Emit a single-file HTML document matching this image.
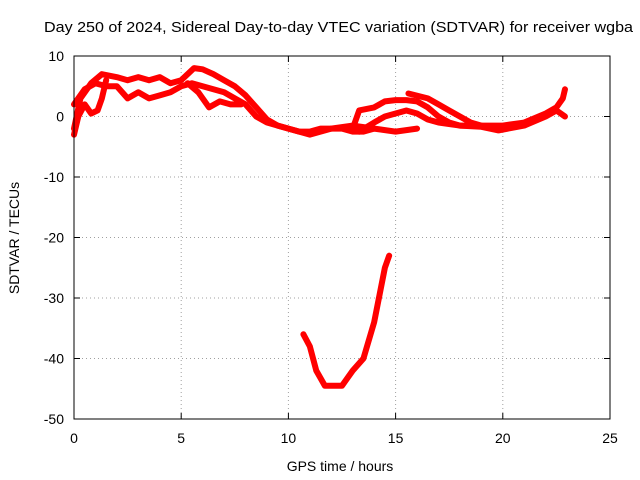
<!DOCTYPE html>
<html><head><meta charset="utf-8"><style>
body{margin:0;background:#fff;}
svg{display:block;font-family:"Liberation Sans",sans-serif;}
</style></head><body>
<svg id="chart" width="640" height="480" viewBox="0 0 640 480">
<text x="44" y="32" font-size="15" textLength="589" lengthAdjust="spacingAndGlyphs">Day 250 of 2024, Sidereal Day-to-day VTEC variation (SDTVAR) for receiver wgba</text>
<text x="340" y="471" font-size="14" text-anchor="middle">GPS time / hours</text>
<text x="19" y="238" font-size="14" text-anchor="middle" transform="rotate(-90 19 238)">SDTVAR / TECUs</text>
<g id="grid"></g>
<g id="series"></g>
<rect x="74" y="56" width="536" height="363" fill="none" stroke="#000" stroke-width="1"/>
</svg>
<script>
const xTicks=[0,5,10,15,20,25];
const yTicks=[10,0,-10,-20,-30,-40,-50];
const trackA=[[0,-2],[0.3,3],[0.8,5.5],[1.3,7],[2,6.5],[2.5,6],[3,6.5],[3.5,6],[4,6.5],[4.5,5.5],[5,6],[5.6,8],[6,7.8],[6.5,7],[7,6],[7.5,5],[8,3.5],[8.5,1.5],[9,-0.5],[9.5,-1.5],[10,-2],[10.5,-2.5],[11,-2.5],[11.5,-2],[12,-2],[12.5,-2],[13,-2.5],[13.5,-2.5],[14,-2]];
const trackB=[[0,2],[0.5,4.5],[1,5.5],[1.5,5],[2,5],[2.5,3],[3,4],[3.5,3],[4,3.5],[4.5,4],[5,5],[5.5,5.5],[6,5],[6.5,4.5],[7,4],[7.5,3],[8,2],[8.5,0],[9,-1],[10,-2],[11,-3],[12,-2],[13,-1.5],[14,-2],[15,-2.5],[16,-2]];
const trackC=[[0,-3],[0.2,0],[0.5,2],[0.8,0.5],[1.1,1],[1.3,3],[1.5,6]];
const trackD=[[5.3,5.5],[5.8,4],[6.3,1.5],[6.8,2.5],[7.3,2],[7.8,2]];
const trackE=[[13,-2],[13.3,1],[14,1.5],[14.5,2.5],[15,2.7],[15.5,2.7],[16,2.5],[16.5,1.5],[17,0],[17.5,-1],[18,-1.5],[19,-1.5],[20,-1.5],[21,-1],[22,0.5],[22.5,1.5],[22.8,3],[22.9,4.5]];
const trackF=[[13.3,-2.5],[14,-1],[14.5,0],[15,0.5],[15.5,1],[16,0.5],[16.5,-0.5],[17,-1],[18,-1.5],[19,-1.7],[19.8,-2.3],[21,-1.5],[22,0],[22.5,1],[22.9,0]];
const trackG=[[15.6,3.8],[16.5,3],[17,2],[17.5,1],[18,0],[18.5,-1],[19,-1.5]];
const trackH=[[10.7,-36],[11,-38],[11.3,-42],[11.7,-44.5],[12,-44.5],[12.5,-44.5],[13,-42],[13.5,-40],[14,-34],[14.5,-25],[14.7,-23]];
const tracks=[trackA,trackB,trackC,trackD,trackE,trackF,trackG,trackH];
const X0=74,X1=610,Y0=419,Y1=56;
const sx=t=>X0+(t-0)/(25-0)*(X1-X0);
const sy=v=>Y0-(v+50)/(60)*(Y0-Y1);
const NS='http://www.w3.org/2000/svg';
const grid=document.getElementById('grid');
function mk(tag,attrs,parent){const e=document.createElementNS(NS,tag);for(const k in attrs)e.setAttribute(k,attrs[k]);parent.appendChild(e);return e;}
xTicks.forEach(t=>{const x=sx(t);
 if(t>0&&t<25){const l=mk('line',{x1:x,x2:x,y1:Y1,y2:Y0,stroke:'#a0a0a0','stroke-dasharray':'1,3'},grid);
 
 }
 mk('line',{x1:x,x2:x,y1:Y0,y2:Y0-6,stroke:'#000'},grid);
 mk('line',{x1:x,x2:x,y1:Y1,y2:Y1+6,stroke:'#000'},grid);
 const tx=mk('text',{x:x,y:Y0+24,'font-size':14,'text-anchor':'middle'},grid);tx.textContent=t;
 
 
});
yTicks.forEach(v=>{const y=sy(v);
 if(v>-50&&v<10){const l=mk('line',{x1:X0,x2:X1,y1:y,y2:y,stroke:'#a0a0a0','stroke-dasharray':'1,3'},grid);
 
 }
 mk('line',{x1:X0,x2:X0+6,y1:y,y2:y,stroke:'#000'},grid);
 mk('line',{x1:X1,x2:X1-6,y1:y,y2:y,stroke:'#000'},grid);
 const tx=mk('text',{x:X0-10,y:y+5,'font-size':14,'text-anchor':'end'},grid);tx.textContent=v;
 
 
});
const g=document.getElementById('series');
tracks.forEach(tr=>{
 const p=mk('polyline',{points:tr.map(d=>sx(d[0])+','+sy(d[1])).join(' '),fill:'none',stroke:'#f00','stroke-width':6,'stroke-linejoin':'round','stroke-linecap':'round'},g);
 
 
});
</script>
</body></html>
